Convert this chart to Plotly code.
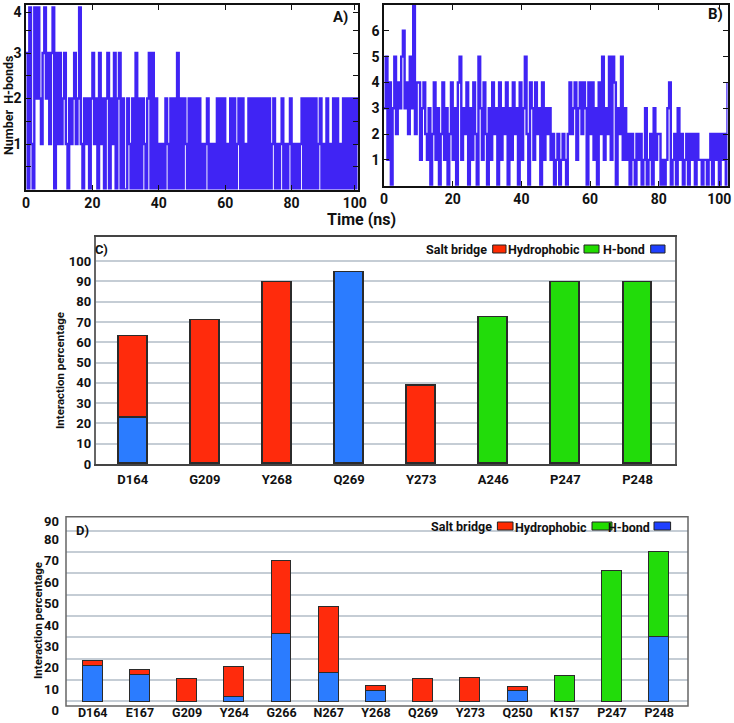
import plotly.graph_objects as go

# ---------------- DATA ----------------
# Panel A: number of H-bonds, one digit per 0.5 ns sample (0 .. 100 ns)
hbonds_A_digits = (
    "30410424213423134031"   # 0-10 ns
    "31231021231241021202"   # 10-20
    "31203120230213023020"   # 20-30
    "02102030202102303020"   # 30-40
    "10102102020302021020"   # 40-50
    "20202010120101020202"   # 50-60
    "01020201202010202020"   # 60-70
    "20202020120101201012"   # 70-80
    "01010120202020201201"   # 80-90
    "020102020102020202021"  # 90-100
)
# Panel B: number of H-bonds, one digit per 0.5 ns sample (0 .. 100 ns)
hbonds_B_digits = (
    "35140352435634253724"   # 0-10 ns
    "41342130241302413024"   # 10-20
    "13045132403142053142"   # 20-30
    "03142304132403142304"   # 30-40
    "13520431423041323120"   # 40-50
    "12012102423413424304"   # 50-60
    "24130425132515403251"   # 60-70
    "31202102120130120312"   # 70-80
    "20101340120312012021"   # 80-90
    "202110110120212021204"  # 90-100
)
hbonds_A = [int(c) for c in hbonds_A_digits]
hbonds_B = [int(c) for c in hbonds_B_digits]
time_A = [i * 0.5 for i in range(len(hbonds_A))]
time_B = [i * 0.5 for i in range(len(hbonds_B))]
time_labels = ["0", "20", "40", "60", "80", "100"]

# Panel C: interaction percentage
residues_C = ["D164", "G209", "Y268", "Q269", "Y273", "A246", "P247", "P248"]
C_blue  = [23, None, None, 95, None, None, None, None]
C_red   = [40, 71, 90, None, 38.5, None, None, None]
C_green = [None, None, None, None, None, 72.5, 90, 90]
C_ticks = [0, 10, 20, 30, 40, 50, 60, 70, 80, 90, 100]

# Panel D: interaction percentage
residues_D = ["D164", "E167", "G209", "Y264", "G266", "N267", "Y268",
              "Q269", "Y273", "Q250", "K157", "P247", "P248"]
D_blue  = [16.5, 12.5, None, 2, 31.5, 13.5, 5, None, None, 5, None, None, 30.5]
D_red   = [2.5, 2.5, 10.5, 14, 34.5, 31, 2.5, 10.5, 11, 2, None, None, None]
D_green = [None, None, None, None, None, None, None, None, None, None, 12, 61, 39.5]
D_ticks = [0, 10, 20, 30, 40, 50, 60, 70, 80]

legend_labels = ["Salt bridge", "Hydrophobic", "H-bond"]

# ---------------- STYLE ----------------
W, H = 734, 723
FONT = "Roboto, Liberation Sans, Arial, sans-serif"
LINE_C = "#4024f4"
RED, GREEN, BLUE = "#ff2b0c", "#22dc0a", "#2b7cff"
LEG_RED, LEG_GREEN, LEG_BLUE = "#ff2a00", "#22dd00", "#1f40ff"
GRID = "#c5cdd5"
OUTLINE = "#2b2b2b"


def fx(p):
    return p / W


def fy(p):
    return 1 - p / H


fig = go.Figure()

fig.add_trace(go.Scatter(x=time_A, y=hbonds_A, mode="lines",
                         line=dict(color=LINE_C, width=2.4, shape="hv", simplify=False),
                         xaxis="x", yaxis="y", showlegend=False, hoverinfo="skip"))
fig.add_trace(go.Scatter(x=time_B, y=hbonds_B, mode="lines",
                         line=dict(color=LINE_C, width=2.4, shape="hv", simplify=False),
                         xaxis="x2", yaxis="y2", showlegend=False, hoverinfo="skip"))

for vals, col in [(C_blue, BLUE), (C_red, RED), (C_green, GREEN)]:
    fig.add_trace(go.Bar(x=residues_C, y=vals, width=0.4,
                         marker=dict(color=col, line=dict(color=OUTLINE, width=1.2)),
                         xaxis="x3", yaxis="y3", showlegend=False, hoverinfo="skip"))
for vals, col in [(D_blue, BLUE), (D_red, RED), (D_green, GREEN)]:
    fig.add_trace(go.Bar(x=residues_D, y=vals, width=0.42,
                         marker=dict(color=col, line=dict(color=OUTLINE, width=1.2)),
                         xaxis="x4", yaxis="y4", showlegend=False, hoverinfo="skip"))

tick_font = dict(family=FONT, size=14, color="#111", weight=700)
cat_font = dict(family=FONT, size=13, color="#111", weight=700)
catx_font = dict(family=FONT, size=12.5, color="#111", weight=700)

ts_x = dict(range=[0, 100], ticks="inside", ticklen=5,
            tickcolor="#111", showline=True, linecolor="#111", linewidth=1.5,
            mirror="allticks", showgrid=False, zeroline=False, tickfont=tick_font,
            automargin=False)

layout = dict(
    template="none",
    width=W, height=H, autosize=False,
    margin=dict(l=0, r=0, t=0, b=0, pad=0),
    paper_bgcolor="white", plot_bgcolor="white",
    barmode="stack", bargap=0,
    font=dict(family=FONT, color="#111"),
    xaxis=dict(ts_x, domain=[fx(26), fx(358)], anchor="y",
               tickvals=[0, 20, 40, 60, 80, 99], ticktext=time_labels),
    yaxis=dict(domain=[fy(189.5), fy(5)], anchor="x", range=[0, 4.055],
               tickvals=[0.5, 1, 1.5, 2, 2.5, 3, 3.5, 3.9],
               ticktext=["", "1", "", "2", "", "3", "", "4"],
               ticks="inside", ticklen=5, tickcolor="#111",
               showline=True, linecolor="#111", linewidth=1.5, mirror="allticks",
               showgrid=False, zeroline=False, tickfont=tick_font, automargin=False),
    xaxis2=dict(ts_x, domain=[fx(384), fx(727.5)], anchor="y2",
                tickvals=[0, 20, 40, 60, 80, 97.6], ticktext=time_labels),
    yaxis2=dict(domain=[fy(185.7), fy(5)], anchor="x2", range=[0, 7.0],
                tickvals=[1, 2, 3, 4, 5, 6],
                ticks="inside", ticklen=5, tickcolor="#111",
                showline=True, linecolor="#111", linewidth=1.5, mirror="allticks",
                showgrid=False, zeroline=False, tickfont=tick_font, automargin=False),
    xaxis3=dict(domain=[fx(95.5), fx(675)], anchor="y3", type="category",
                categoryorder="array", categoryarray=residues_C,
                range=[-0.516, 7.52], showline=True, linecolor="#444", linewidth=1.5,
                mirror=True, showgrid=False, zeroline=False, ticks="", tickfont=cat_font,
                ticklabelstandoff=3, automargin=False),
    yaxis3=dict(domain=[fy(464), fy(236.7)], anchor="x3", range=[0, 112],
                tickvals=C_ticks, showgrid=True, gridcolor=GRID, gridwidth=1.5,
                zeroline=False, showline=True, linecolor="#666", linewidth=1.5,
                mirror=True, ticks="", tickfont=cat_font, automargin=False),
    xaxis4=dict(domain=[fx(66), fx(688)], anchor="free", position=fy(701.3),
                type="category", categoryorder="array", categoryarray=residues_D,
                range=[-0.566, 12.61], showline=False,
                showgrid=False, zeroline=False, ticks="", tickfont=catx_font,
                ticklabelstandoff=2, automargin=False),
    yaxis4=dict(domain=[fy(706), fy(516.7)], anchor="x4", range=[-2.2, 86.5],
                tickvals=D_ticks, showgrid=True, gridcolor=GRID, gridwidth=1.5,
                zeroline=False, showline=False,
                ticks="", tickfont=cat_font, ticklabelshift=9,
                ticklabelstandoff=6, automargin=False),
)
fig.update_layout(**layout)

ann = []


def text(x, y, s, size=14, anchor="center", angle=0):
    ann.append(dict(x=fx(x), y=fy(y), xref="paper", yref="paper", text=s,
                    showarrow=False, xanchor=anchor, yanchor="middle",
                    textangle=angle,
                    font=dict(family=FONT, size=size, color="#111", weight=700)))


text(340, 17, "A)", 15)
text(715, 14, "B)", 15)
text(361, 219, "Time (ns)", 16)
text(8, 105, "Number  H-bonds", 12.5, angle=-90)
text(101, 249, "C)", 13)
text(82, 530, "D)", 13)
text(60, 371, "Interaction percentage", 11.5, angle=-90)
text(38, 621, "Interaction percentage", 11.5, angle=-90)
text(61, 521, "90", 13, anchor="right")

shapes = [
    # frame of panel D
    dict(type="rect", xref="paper", yref="paper",
         x0=fx(66), x1=fx(688), y0=fy(706), y1=fy(516.7),
         line=dict(color="#666", width=1.5), fillcolor="rgba(0,0,0,0)", layer="above"),
]


def swatch(x0, x1, yc, col, h=8):
    shapes.append(dict(type="rect", xref="paper", yref="paper",
                       x0=fx(x0), x1=fx(x1), y0=fy(yc + h / 2), y1=fy(yc - h / 2),
                       fillcolor=col, line=dict(color="#222", width=1)))


# legend of panel C
text(489, 249, legend_labels[0], 12.5, anchor="right")
swatch(492.7, 506, 249, LEG_RED)
text(582, 249, legend_labels[1], 12.5, anchor="right")
swatch(584, 599, 249, LEG_GREEN)
text(647, 249, legend_labels[2], 12.5, anchor="right")
swatch(650.7, 665, 249, LEG_BLUE)

# legend of panel D
text(494, 526, legend_labels[0], 12.5, anchor="right")
swatch(497.4, 513, 526, LEG_RED)
text(589, 527, legend_labels[1], 12.5, anchor="right")
swatch(592, 612, 526, LEG_GREEN)
text(652, 527, legend_labels[2], 12.5, anchor="right")
swatch(654, 670.6, 526, LEG_BLUE)

fig.update_layout(annotations=ann, shapes=shapes)
fig.write_html("out.html", config={"displayModeBar": False},
               post_script="document.body.style.margin='0';document.body.style.padding='0';")
